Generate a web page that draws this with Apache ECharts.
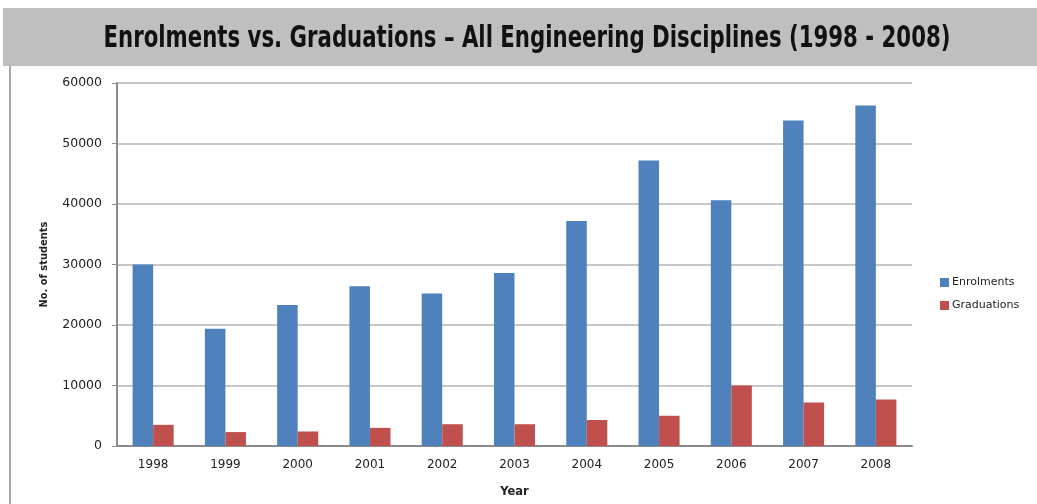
<!DOCTYPE html>
<html>
<head>
<meta charset="utf-8">
<script src="https://cdn.jsdelivr.net/npm/echarts@6/dist/echarts.min.js"></script>
<style>
  html, body { margin: 0; padding: 0; background: #ffffff; }
  #chart { width: 1037px; height: 504px; }
</style>
</head>
<body>
<div id="chart"></div>
<script>
// Engineering enrolments and graduations, 1998 - 2008
const years = ['1998', '1999', '2000', '2001', '2002', '2003', '2004', '2005', '2006', '2007', '2008'];
const enrolments = [30000, 19400, 23300, 26400, 25200, 28600, 37200, 47200, 40600, 53800, 56300];
const graduations = [3500, 2300, 2400, 3000, 3600, 3600, 4300, 5000, 10000, 7200, 7700];

const titleText = 'Enrolments vs. Graduations \u2013 All Engineering Disciplines (1998 - 2008)';

const chart = echarts.init(document.getElementById('chart'));
chart.setOption({
  animation: false,
  backgroundColor: '#ffffff',
  graphic: [
    // grey heading band
    { type: 'rect', left: 3, top: 8, shape: { width: 1034, height: 58 }, style: { fill: '#bfbfbf' }, z: 0 },
    {
      // condensed bold heading, squeezed horizontally about its centre
      type: 'text', x: 527, y: 39, scaleX: 0.788, z: 1,
      style: {
        text: titleText, fill: '#111111',
        font: 'bold 30px "DejaVu Sans Condensed", "DejaVu Sans", sans-serif',
        textAlign: 'center', textVerticalAlign: 'middle'
      }
    },
    // thin frame line down the left side
    { type: 'rect', left: 9, top: 66, shape: { width: 2, height: 438 }, style: { fill: '#a8a8a8' }, z: 0 }
  ],
  legend: {
    orient: 'vertical',
    left: 935,
    top: 272,
    itemWidth: 9,
    itemHeight: 9,
    itemGap: 12,
    icon: 'rect',
    textStyle: { fontFamily: 'DejaVu Sans', fontSize: 11, color: '#222222', padding: [0, 0, 0, -2] },
    data: ['Enrolments', 'Graduations']
  },
  grid: { left: 117, right: 125, top: 83, bottom: 58, containLabel: false },
  xAxis: {
    type: 'category',
    data: years,
    name: 'Year',
    nameLocation: 'middle',
    nameGap: 40,
    nameTextStyle: { fontFamily: 'DejaVu Sans', fontSize: 11.5, fontWeight: 'bold', color: '#222222' },
    axisLine: { lineStyle: { color: '#8c8c8c', width: 2 } },
    axisTick: { show: false },
    axisLabel: { fontFamily: 'DejaVu Sans', fontSize: 12, color: '#222222', margin: 13 }
  },
  yAxis: {
    type: 'value',
    min: 0,
    max: 60000,
    interval: 10000,
    name: 'No. of students',
    nameLocation: 'middle',
    nameGap: 67,
    nameRotate: 90,
    nameTextStyle: { fontFamily: '"DejaVu Sans Condensed", "DejaVu Sans", sans-serif', fontSize: 11, fontWeight: 'bold', color: '#222222' },
    axisLine: { show: true, lineStyle: { color: '#8c8c8c', width: 2 } },
    axisTick: { show: true, length: 5, lineStyle: { color: '#8c8c8c', width: 1 } },
    axisLabel: {
      fontFamily: 'DejaVu Sans', fontSize: 12.5, color: '#222222', margin: 15,
      formatter: function (v) { return String(v); }
    },
    splitLine: { lineStyle: { color: '#b4b4b4', width: 1.5 } }
  },
  series: [
    {
      name: 'Enrolments', type: 'bar', data: enrolments,
      barWidth: '28.4%', barGap: '0%',
      itemStyle: { color: '#4f81bd' }
    },
    {
      name: 'Graduations', type: 'bar', data: graduations,
      barWidth: '28.4%', barGap: '0%',
      itemStyle: { color: '#c0504d' }
    }
  ]
});
</script>
</body>
</html>
